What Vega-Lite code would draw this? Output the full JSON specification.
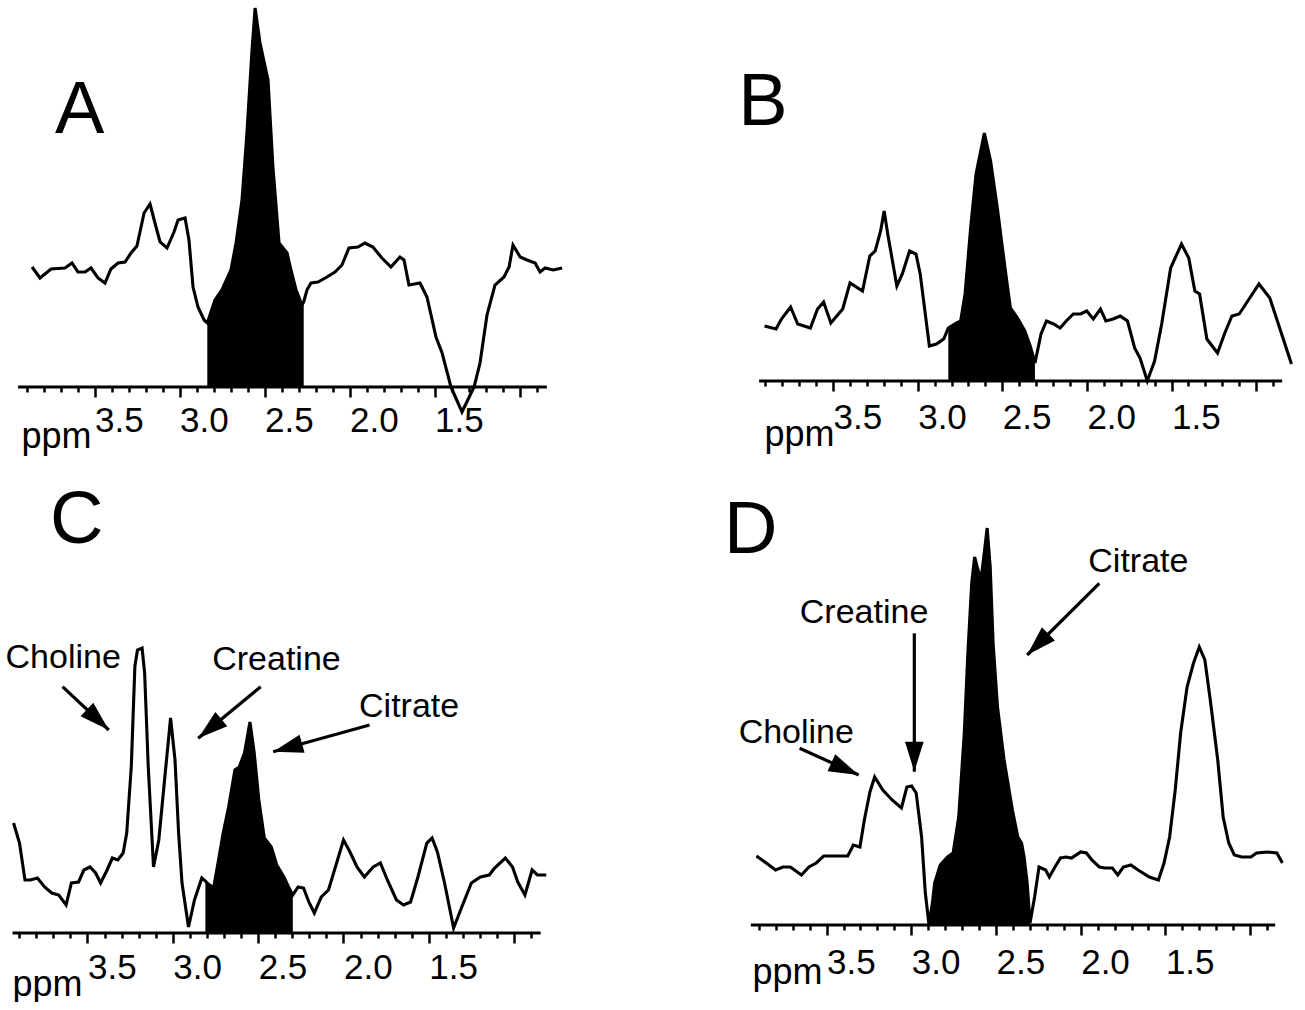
{
  "$schema": "https://vega.github.io/schema/vega-lite/v6.json",
  "background": "white",
  "padding": {"left": 5, "top": 0, "right": 0, "bottom": 0},
  "config": {"view": {"stroke": null}, "font": "Liberation Sans"},
  "datasets": {
    "A": [{"ppm":3.868,"v":120},{"ppm":3.821,"v":109},{"ppm":3.756,"v":118},{"ppm":3.674,"v":119},{"ppm":3.633,"v":124},{"ppm":3.598,"v":115},{"ppm":3.556,"v":115},{"ppm":3.521,"v":119},{"ppm":3.48,"v":109},{"ppm":3.439,"v":104},{"ppm":3.404,"v":118},{"ppm":3.362,"v":124},{"ppm":3.321,"v":125},{"ppm":3.286,"v":134},{"ppm":3.251,"v":141},{"ppm":3.209,"v":174},{"ppm":3.174,"v":183},{"ppm":3.145,"v":164},{"ppm":3.115,"v":145},{"ppm":3.074,"v":139},{"ppm":3.033,"v":155},{"ppm":3.009,"v":167},{"ppm":2.968,"v":169},{"ppm":2.945,"v":147},{"ppm":2.921,"v":100},{"ppm":2.892,"v":80},{"ppm":2.856,"v":67},{"ppm":2.837,"v":64},{"ppm":2.792,"v":87},{"ppm":2.751,"v":97},{"ppm":2.698,"v":117},{"ppm":2.668,"v":144},{"ppm":2.633,"v":187},{"ppm":2.604,"v":254},{"ppm":2.574,"v":337},{"ppm":2.556,"v":379},{"ppm":2.527,"v":344},{"ppm":2.48,"v":307},{"ppm":2.451,"v":220},{"ppm":2.415,"v":144},{"ppm":2.368,"v":134},{"ppm":2.345,"v":117},{"ppm":2.315,"v":97},{"ppm":2.28,"v":82},{"ppm":2.27,"v":85},{"ppm":2.251,"v":97},{"ppm":2.227,"v":104},{"ppm":2.186,"v":105},{"ppm":2.133,"v":110},{"ppm":2.086,"v":115},{"ppm":2.045,"v":122},{"ppm":2.004,"v":139},{"ppm":1.951,"v":140},{"ppm":1.91,"v":144},{"ppm":1.863,"v":140},{"ppm":1.81,"v":129},{"ppm":1.757,"v":120},{"ppm":1.704,"v":130},{"ppm":1.68,"v":127},{"ppm":1.651,"v":102},{"ppm":1.586,"v":104},{"ppm":1.545,"v":90},{"ppm":1.492,"v":50},{"ppm":1.456,"v":34},{"ppm":1.404,"v":0},{"ppm":1.339,"v":-25},{"ppm":1.268,"v":0},{"ppm":1.233,"v":24},{"ppm":1.192,"v":72},{"ppm":1.145,"v":102},{"ppm":1.092,"v":110},{"ppm":1.062,"v":120},{"ppm":1.039,"v":142},{"ppm":0.997,"v":130},{"ppm":0.956,"v":127},{"ppm":0.909,"v":124},{"ppm":0.88,"v":115},{"ppm":0.85,"v":119},{"ppm":0.803,"v":117},{"ppm":0.75,"v":119}],
    "B": [{"ppm":3.905,"v":55},{"ppm":3.837,"v":52},{"ppm":3.805,"v":62},{"ppm":3.751,"v":74},{"ppm":3.709,"v":57},{"ppm":3.634,"v":53},{"ppm":3.592,"v":72},{"ppm":3.556,"v":79},{"ppm":3.513,"v":58},{"ppm":3.443,"v":72},{"ppm":3.4,"v":98},{"ppm":3.326,"v":90},{"ppm":3.283,"v":125},{"ppm":3.251,"v":130},{"ppm":3.219,"v":150},{"ppm":3.198,"v":170},{"ppm":3.177,"v":147},{"ppm":3.123,"v":95},{"ppm":3.091,"v":107},{"ppm":3.048,"v":130},{"ppm":3.01,"v":127},{"ppm":2.985,"v":107},{"ppm":2.931,"v":35},{"ppm":2.889,"v":37},{"ppm":2.846,"v":42},{"ppm":2.819,"v":53},{"ppm":2.772,"v":58},{"ppm":2.746,"v":60},{"ppm":2.72,"v":87},{"ppm":2.687,"v":153},{"ppm":2.655,"v":207},{"ppm":2.606,"v":248},{"ppm":2.569,"v":220},{"ppm":2.527,"v":170},{"ppm":2.484,"v":113},{"ppm":2.452,"v":73},{"ppm":2.41,"v":63},{"ppm":2.367,"v":50},{"ppm":2.335,"v":35},{"ppm":2.307,"v":18},{"ppm":2.271,"v":47},{"ppm":2.239,"v":60},{"ppm":2.197,"v":57},{"ppm":2.158,"v":53},{"ppm":2.122,"v":60},{"ppm":2.08,"v":67},{"ppm":2.037,"v":67},{"ppm":2.001,"v":70},{"ppm":1.962,"v":62},{"ppm":1.92,"v":72},{"ppm":1.888,"v":60},{"ppm":1.845,"v":62},{"ppm":1.803,"v":65},{"ppm":1.76,"v":60},{"ppm":1.718,"v":33},{"ppm":1.686,"v":23},{"ppm":1.643,"v":0},{"ppm":1.6,"v":20},{"ppm":1.558,"v":57},{"ppm":1.505,"v":113},{"ppm":1.441,"v":137},{"ppm":1.398,"v":123},{"ppm":1.362,"v":90},{"ppm":1.334,"v":87},{"ppm":1.291,"v":42},{"ppm":1.228,"v":28},{"ppm":1.185,"v":48},{"ppm":1.143,"v":65},{"ppm":1.1,"v":67},{"ppm":1.057,"v":78},{"ppm":0.983,"v":97},{"ppm":0.919,"v":83},{"ppm":0.855,"v":50},{"ppm":0.791,"v":17}],
    "C": [{"ppm":3.933,"v":110},{"ppm":3.898,"v":90},{"ppm":3.866,"v":53},{"ppm":3.835,"v":53},{"ppm":3.793,"v":55},{"ppm":3.751,"v":46},{"ppm":3.709,"v":40},{"ppm":3.668,"v":38},{"ppm":3.625,"v":28},{"ppm":3.594,"v":50},{"ppm":3.552,"v":51},{"ppm":3.521,"v":63},{"ppm":3.485,"v":66},{"ppm":3.452,"v":60},{"ppm":3.423,"v":50},{"ppm":3.385,"v":63},{"ppm":3.354,"v":75},{"ppm":3.322,"v":73},{"ppm":3.291,"v":80},{"ppm":3.27,"v":100},{"ppm":3.243,"v":167},{"ppm":3.222,"v":267},{"ppm":3.207,"v":283},{"ppm":3.18,"v":285},{"ppm":3.165,"v":260},{"ppm":3.144,"v":167},{"ppm":3.113,"v":66},{"ppm":3.082,"v":93},{"ppm":3.05,"v":150},{"ppm":3.013,"v":215},{"ppm":2.987,"v":173},{"ppm":2.966,"v":100},{"ppm":2.946,"v":50},{"ppm":2.908,"v":6},{"ppm":2.873,"v":33},{"ppm":2.83,"v":55},{"ppm":2.809,"v":52},{"ppm":2.799,"v":50},{"ppm":2.761,"v":45},{"ppm":2.732,"v":73},{"ppm":2.705,"v":100},{"ppm":2.673,"v":126},{"ppm":2.636,"v":163},{"ppm":2.611,"v":166},{"ppm":2.58,"v":180},{"ppm":2.548,"v":211},{"ppm":2.523,"v":180},{"ppm":2.496,"v":133},{"ppm":2.464,"v":95},{"ppm":2.423,"v":86},{"ppm":2.391,"v":68},{"ppm":2.349,"v":56},{"ppm":2.322,"v":46},{"ppm":2.297,"v":38},{"ppm":2.266,"v":46},{"ppm":2.234,"v":45},{"ppm":2.203,"v":31},{"ppm":2.171,"v":20},{"ppm":2.13,"v":36},{"ppm":2.088,"v":43},{"ppm":2.035,"v":73},{"ppm":2.0,"v":93},{"ppm":1.962,"v":81},{"ppm":1.921,"v":66},{"ppm":1.878,"v":56},{"ppm":1.826,"v":66},{"ppm":1.784,"v":70},{"ppm":1.743,"v":53},{"ppm":1.69,"v":33},{"ppm":1.648,"v":28},{"ppm":1.607,"v":31},{"ppm":1.564,"v":56},{"ppm":1.512,"v":90},{"ppm":1.481,"v":95},{"ppm":1.45,"v":81},{"ppm":1.408,"v":50},{"ppm":1.355,"v":5},{"ppm":1.314,"v":23},{"ppm":1.251,"v":50},{"ppm":1.198,"v":56},{"ppm":1.146,"v":58},{"ppm":1.115,"v":65},{"ppm":1.052,"v":75},{"ppm":1.01,"v":66},{"ppm":0.979,"v":51},{"ppm":0.937,"v":38},{"ppm":0.895,"v":63},{"ppm":0.864,"v":58},{"ppm":0.812,"v":58}],
    "D": [{"ppm":3.914,"v":69},{"ppm":3.856,"v":62},{"ppm":3.801,"v":55},{"ppm":3.757,"v":58},{"ppm":3.714,"v":58},{"ppm":3.648,"v":50},{"ppm":3.604,"v":58},{"ppm":3.561,"v":62},{"ppm":3.517,"v":69},{"ppm":3.473,"v":69},{"ppm":3.375,"v":69},{"ppm":3.342,"v":80},{"ppm":3.303,"v":78},{"ppm":3.277,"v":105},{"ppm":3.244,"v":133},{"ppm":3.216,"v":148},{"ppm":3.168,"v":135},{"ppm":3.113,"v":125},{"ppm":3.058,"v":117},{"ppm":3.026,"v":138},{"ppm":2.998,"v":139},{"ppm":2.971,"v":132},{"ppm":2.939,"v":88},{"ppm":2.917,"v":32},{"ppm":2.895,"v":0},{"ppm":2.873,"v":25},{"ppm":2.862,"v":42},{"ppm":2.829,"v":60},{"ppm":2.786,"v":68},{"ppm":2.753,"v":72},{"ppm":2.72,"v":108},{"ppm":2.687,"v":192},{"ppm":2.665,"v":275},{"ppm":2.643,"v":342},{"ppm":2.626,"v":368},{"ppm":2.611,"v":358},{"ppm":2.589,"v":345},{"ppm":2.574,"v":365},{"ppm":2.552,"v":397},{"ppm":2.534,"v":358},{"ppm":2.517,"v":282},{"ppm":2.491,"v":218},{"ppm":2.452,"v":165},{"ppm":2.403,"v":115},{"ppm":2.371,"v":88},{"ppm":2.349,"v":82},{"ppm":2.334,"v":68},{"ppm":2.316,"v":42},{"ppm":2.299,"v":2},{"ppm":2.272,"v":28},{"ppm":2.246,"v":58},{"ppm":2.207,"v":55},{"ppm":2.185,"v":48},{"ppm":2.152,"v":58},{"ppm":2.119,"v":67},{"ppm":2.087,"v":68},{"ppm":2.054,"v":67},{"ppm":2.0,"v":73},{"ppm":1.966,"v":72},{"ppm":1.934,"v":65},{"ppm":1.89,"v":58},{"ppm":1.857,"v":57},{"ppm":1.813,"v":57},{"ppm":1.781,"v":50},{"ppm":1.748,"v":58},{"ppm":1.704,"v":60},{"ppm":1.661,"v":55},{"ppm":1.595,"v":48},{"ppm":1.541,"v":45},{"ppm":1.508,"v":62},{"ppm":1.475,"v":88},{"ppm":1.442,"v":135},{"ppm":1.41,"v":192},{"ppm":1.372,"v":238},{"ppm":1.334,"v":262},{"ppm":1.3,"v":278},{"ppm":1.267,"v":265},{"ppm":1.235,"v":225},{"ppm":1.191,"v":165},{"ppm":1.159,"v":108},{"ppm":1.126,"v":82},{"ppm":1.093,"v":70},{"ppm":1.05,"v":68},{"ppm":0.995,"v":68},{"ppm":0.962,"v":72},{"ppm":0.897,"v":73},{"ppm":0.842,"v":72},{"ppm":0.809,"v":62}],
    "notes": [
      {"panel":"C","text":"Choline","ppm":3.98,"v":265},
      {"panel":"C","text":"Creatine","ppm":2.769,"v":263},
      {"panel":"C","text":"Citrate","ppm":1.909,"v":216},
      {"panel":"D","text":"Citrate","ppm":1.955,"v":353},
      {"panel":"D","text":"Creatine","ppm":3.658,"v":302},
      {"panel":"D","text":"Choline","ppm":4.019,"v":182}
    ],
    "arrows": [
      {"panel":"C","ppm":3.375,"v":203,"ppm2":3.646,"v2":246.3},
      {"panel":"C","ppm":2.851,"v":194.7,"ppm2":2.485,"v2":246.3},
      {"panel":"C","ppm":2.412,"v":181.3,"ppm2":1.847,"v2":208},
      {"panel":"D","ppm":2.316,"v":270,"ppm2":1.89,"v2":341.7},
      {"panel":"D","ppm":2.982,"v":153.3,"ppm2":2.982,"v2":291.7},
      {"panel":"D","ppm":3.31,"v":150,"ppm2":3.659,"v2":176.7}
    ]
  },
  "bounds": "flush",
  "columns": 2,
  "spacing": {"row": 63, "column": 204},
  "concat": [
    {
      "width": 542, "height": 387,
      "encoding": {
        "x": {"field": "ppm", "type": "quantitative", "scale": {"domain": [4.027, 0.839], "nice": false, "zero": false},
          "axis": {"values": [3.9,3.8,3.7,3.6,3.5,3.4,3.3,3.2,3.1,3.0,2.9,2.8,2.7,2.6,2.5,2.4,2.3,2.2,2.1,2.0,1.9,1.8,1.7,1.6,1.5,1.4,1.3,1.2,1.1,1.0,0.9],
            "domain": false, "grid": false, "tickColor": "black", "tickWidth": 2.5,
            "tickSize": {"condition": {"test": "abs(datum.value*2-round(datum.value*2))<0.01", "value": 10}, "value": 5},
            "labelExpr": "abs(datum.value*2-round(datum.value*2))<0.01 && datum.value>1.2 ? format(datum.value,'.1f') : ''",
            "labelAlign": "left", "labelBaseline": "alphabetic", "labelPadding": 34, "labelFontSize": 35, "labelFont": "Liberation Sans", "labelColor": "black", "labelOverlap": false, "labelFlush": false, "labelBound": false,
            "title": "ppm", "titleFont": "Liberation Sans", "titleFontSize": 36, "titleFontWeight": "normal", "titleColor": "black", "titleAlign": "left", "titleBaseline": "alphabetic", "titleAnchor": "start", "titleX": 16, "titleY": 60}},
        "y": {"field": "v", "type": "quantitative", "scale": {"domain": [0, 387], "nice": false, "zero": false}, "axis": null}
      },
      "layer": [
        {"data": {"name": "A"}, "transform": [{"filter": {"field": "ppm", "range": [2.269, 2.838]}}], "mark": {"type": "area", "color": "black"}},
        {"data": {"name": "A"}, "mark": {"type": "line", "color": "black", "strokeWidth": 3.1}},
        {"data": {"values": [{"ppm": 3.95, "ppm2": 0.84, "v": 0}]}, "mark": {"type": "rule", "color": "black", "strokeWidth": 2.8}, "encoding": {"x2": {"field": "ppm2"}}},
        {"data": {"values": [{"ppm": 3.733, "v": 254, "text": "A"}]}, "mark": {"type": "text", "fontSize": 74, "align": "left", "baseline": "alphabetic", "font": "Liberation Sans", "color": "black"}, "encoding": {"text": {"field": "text"}}}
      ]
    },
    {
      "width": 531, "height": 381,
      "encoding": {
        "x": {"field": "ppm", "type": "quantitative", "scale": {"domain": [3.985, 0.847], "nice": false, "zero": false},
          "axis": {"values": [3.9,3.8,3.7,3.6,3.5,3.4,3.3,3.2,3.1,3.0,2.9,2.8,2.7,2.6,2.5,2.4,2.3,2.2,2.1,2.0,1.9,1.8,1.7,1.6,1.5,1.4,1.3,1.2,1.1,1.0,0.9],
            "domain": false, "grid": false, "tickColor": "black", "tickWidth": 2.5,
            "tickSize": {"condition": {"test": "abs(datum.value*2-round(datum.value*2))<0.01", "value": 10}, "value": 5},
            "labelExpr": "abs(datum.value*2-round(datum.value*2))<0.01 && datum.value>1.2 ? format(datum.value,'.1f') : ''",
            "labelAlign": "left", "labelBaseline": "alphabetic", "labelPadding": 37, "labelFontSize": 35, "labelFont": "Liberation Sans", "labelColor": "black", "labelOverlap": false, "labelFlush": false, "labelBound": false,
            "title": "ppm", "titleFont": "Liberation Sans", "titleFontSize": 36, "titleFontWeight": "normal", "titleColor": "black", "titleAlign": "left", "titleBaseline": "alphabetic", "titleAnchor": "start", "titleX": 13, "titleY": 64}},
        "y": {"field": "v", "type": "quantitative", "scale": {"domain": [0, 381], "nice": false, "zero": false}, "axis": null}
      },
      "layer": [
        {"data": {"name": "B"}, "transform": [{"filter": {"field": "ppm", "range": [2.306, 2.82]}}], "mark": {"type": "area", "color": "black"}},
        {"data": {"name": "B"}, "mark": {"type": "line", "color": "black", "strokeWidth": 3.1}},
        {"data": {"values": [{"ppm": 3.937, "ppm2": 0.846, "v": 0}]}, "mark": {"type": "rule", "color": "black", "strokeWidth": 2.8}, "encoding": {"x2": {"field": "ppm2"}}},
        {"data": {"values": [{"ppm": 4.06, "v": 256, "text": "B"}]}, "mark": {"type": "text", "fontSize": 74, "align": "left", "baseline": "alphabetic", "font": "Liberation Sans", "color": "black"}, "encoding": {"text": {"field": "text"}}}
      ]
    },
    {
      "width": 536, "height": 483,
      "encoding": {
        "x": {"field": "ppm", "type": "quantitative", "scale": {"domain": [3.983, 0.843], "nice": false, "zero": false},
          "axis": {"values": [3.9,3.8,3.7,3.6,3.5,3.4,3.3,3.2,3.1,3.0,2.9,2.8,2.7,2.6,2.5,2.4,2.3,2.2,2.1,2.0,1.9,1.8,1.7,1.6,1.5,1.4,1.3,1.2,1.1,1.0,0.9],
            "domain": false, "grid": false, "tickColor": "black", "tickWidth": 2.5,
            "tickSize": {"condition": {"test": "abs(datum.value*2-round(datum.value*2))<0.01", "value": 10}, "value": 5},
            "labelExpr": "abs(datum.value*2-round(datum.value*2))<0.01 && datum.value>1.2 ? format(datum.value,'.1f') : ''",
            "labelAlign": "left", "labelBaseline": "alphabetic", "labelPadding": 35, "labelFontSize": 35, "labelFont": "Liberation Sans", "labelColor": "black", "labelOverlap": false, "labelFlush": false, "labelBound": false,
            "title": "ppm", "titleFont": "Liberation Sans", "titleFontSize": 36, "titleFontWeight": "normal", "titleColor": "black", "titleAlign": "left", "titleBaseline": "alphabetic", "titleAnchor": "start", "titleX": 7, "titleY": 62}},
        "y": {"field": "v", "type": "quantitative", "scale": {"domain": [0, 483], "nice": false, "zero": false}, "axis": null}
      },
      "layer": [
        {"data": {"name": "C"}, "transform": [{"filter": {"field": "ppm", "range": [2.296, 2.81]}}], "mark": {"type": "area", "color": "black"}},
        {"data": {"name": "C"}, "mark": {"type": "line", "color": "black", "strokeWidth": 3.1}},
        {"data": {"values": [{"ppm": 3.939, "ppm2": 0.845, "v": 0}]}, "mark": {"type": "rule", "color": "black", "strokeWidth": 2.8}, "encoding": {"x2": {"field": "ppm2"}}},
        {"data": {"values": [{"ppm": 3.72, "v": 390, "text": "C"}]}, "mark": {"type": "text", "fontSize": 74, "align": "left", "baseline": "alphabetic", "font": "Liberation Sans", "color": "black"}, "encoding": {"text": {"field": "text"}}},
        {"data": {"name": "notes"}, "transform": [{"filter": "datum.panel == 'C'"}], "mark": {"type": "text", "fontSize": 34, "align": "left", "baseline": "alphabetic", "font": "Liberation Sans", "color": "black"}, "encoding": {"text": {"field": "text"}}},
        {"data": {"name": "arrows"}, "transform": [{"filter": "datum.panel == 'C'"}], "mark": {"type": "rule", "color": "black", "strokeWidth": 3.2}, "encoding": {"x2": {"field": "ppm2"}, "y2": {"field": "v2"}}},
        {"data": {"name": "arrows"}, "transform": [{"filter": "datum.panel == 'C'"}, {"calculate": "atan2((datum.ppm2 - datum.ppm)*170, datum.v - datum.v2)*180/PI", "as": "angle"}], "mark": {"type": "point", "shape": "M0,0L0.62,2L-0.62,2Z", "filled": true, "color": "black", "opacity": 1, "size": 900, "strokeWidth": 0}, "encoding": {"angle": {"field": "angle", "type": "quantitative", "scale": null}}}
      ]
    },
    {
      "width": 524, "height": 475,
      "encoding": {
        "x": {"field": "ppm", "type": "quantitative", "scale": {"domain": [3.946, 0.853], "nice": false, "zero": false},
          "axis": {"values": [3.9,3.8,3.7,3.6,3.5,3.4,3.3,3.2,3.1,3.0,2.9,2.8,2.7,2.6,2.5,2.4,2.3,2.2,2.1,2.0,1.9,1.8,1.7,1.6,1.5,1.4,1.3,1.2,1.1,1.0,0.9],
            "domain": false, "grid": false, "tickColor": "black", "tickWidth": 2.5,
            "tickSize": {"condition": {"test": "abs(datum.value*2-round(datum.value*2))<0.01", "value": 10}, "value": 5},
            "labelExpr": "abs(datum.value*2-round(datum.value*2))<0.01 && datum.value>1.2 ? format(datum.value,'.1f') : ''",
            "labelAlign": "left", "labelBaseline": "alphabetic", "labelPadding": 38, "labelFontSize": 35, "labelFont": "Liberation Sans", "labelColor": "black", "labelOverlap": false, "labelFlush": false, "labelBound": false,
            "title": "ppm", "titleFont": "Liberation Sans", "titleFontSize": 36, "titleFontWeight": "normal", "titleColor": "black", "titleAlign": "left", "titleBaseline": "alphabetic", "titleAnchor": "start", "titleX": 1, "titleY": 58}},
        "y": {"field": "v", "type": "quantitative", "scale": {"domain": [0, 475], "nice": false, "zero": false}, "axis": null}
      },
      "layer": [
        {"data": {"name": "D"}, "transform": [{"filter": {"field": "ppm", "range": [2.298, 2.896]}}], "mark": {"type": "area", "color": "black"}},
        {"data": {"name": "D"}, "mark": {"type": "line", "color": "black", "strokeWidth": 3.1}},
        {"data": {"values": [{"ppm": 3.947, "ppm2": 0.852, "v": 0}]}, "mark": {"type": "rule", "color": "black", "strokeWidth": 2.8}, "encoding": {"x2": {"field": "ppm2"}}},
        {"data": {"values": [{"ppm": 4.105, "v": 372, "text": "D"}]}, "mark": {"type": "text", "fontSize": 74, "align": "left", "baseline": "alphabetic", "font": "Liberation Sans", "color": "black"}, "encoding": {"text": {"field": "text"}}},
        {"data": {"name": "notes"}, "transform": [{"filter": "datum.panel == 'D'"}], "mark": {"type": "text", "fontSize": 34, "align": "left", "baseline": "alphabetic", "font": "Liberation Sans", "color": "black"}, "encoding": {"text": {"field": "text"}}},
        {"data": {"name": "arrows"}, "transform": [{"filter": "datum.panel == 'D'"}], "mark": {"type": "rule", "color": "black", "strokeWidth": 3.2}, "encoding": {"x2": {"field": "ppm2"}, "y2": {"field": "v2"}}},
        {"data": {"name": "arrows"}, "transform": [{"filter": "datum.panel == 'D'"}, {"calculate": "atan2((datum.ppm2 - datum.ppm)*170, datum.v - datum.v2)*180/PI", "as": "angle"}], "mark": {"type": "point", "shape": "M0,0L0.62,2L-0.62,2Z", "filled": true, "color": "black", "opacity": 1, "size": 900, "strokeWidth": 0}, "encoding": {"angle": {"field": "angle", "type": "quantitative", "scale": null}}}
      ]
    }
  ]
}
